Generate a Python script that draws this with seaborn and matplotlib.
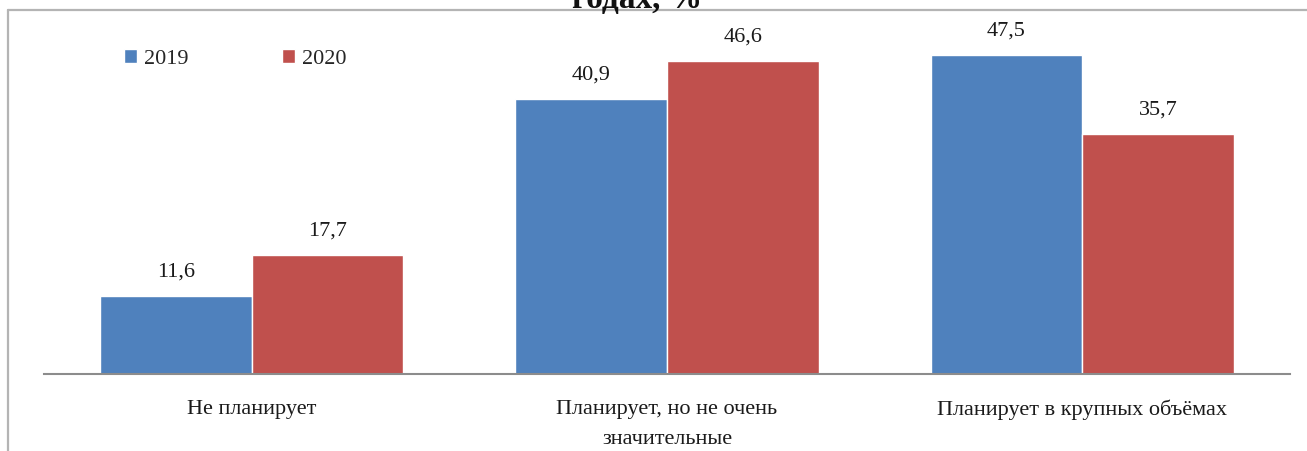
import matplotlib
matplotlib.use("Agg")
import matplotlib.pyplot as plt
from matplotlib.lines import Line2D
import seaborn as sns
import pandas as pd

categories = ["Не планирует", "Планирует, но не очень\nзначительные", "Планирует в крупных объёмах"]
years = ["2019", "2020"]
values_2019 = [11.6, 40.9, 47.5]
values_2020 = [17.7, 46.6, 35.7]
title_tail = "годах, %"

df = pd.DataFrame({
    "category": categories * 2,
    "year": [years[0]] * 3 + [years[1]] * 3,
    "value": values_2019 + values_2020,
})

sns.set_theme(style="white")
plt.rcParams["font.family"] = ["Liberation Serif", "DejaVu Serif"]

W, H = 1307, 452
FS = 16
fig = plt.figure(figsize=(W / 100, H / 100), dpi=100)
ax = fig.add_axes([44 / W, (H - 375) / H, 1246 / W, (375 - 39) / H])

palette = {"2019": "#4F81BD", "2020": "#C0504D"}
sns.barplot(data=df, x="category", y="value", hue="year", palette=palette,
            width=0.73, gap=0, saturation=1, ax=ax, legend=True)

ax.set_ylim(0, 50)
ax.set_xlim(-0.5, 2.5)
ax.set_xlabel("")
ax.set_ylabel("")
ax.set_yticks([])
for s in ["left", "right", "top"]:
    ax.spines[s].set_visible(False)
ax.spines["bottom"].set_color("#8C8C8C")
ax.spines["bottom"].set_linewidth(1.5)
ax.tick_params(axis="x", length=0, pad=18, labelsize=FS, colors="#1a1a1a")
for lab in ax.get_xticklabels():
    lab.set_linespacing(1.8)
    lab.set_multialignment("center")

for cont in ax.containers:
    labels = [f"{v:.1f}".replace(".", ",") for v in cont.datavalues]
    ax.bar_label(cont, labels=labels, padding=11, fontsize=FS, color="#1a1a1a")

leg = ax.legend(loc="upper left", bbox_to_anchor=(0.057, 0.995), ncol=2, frameon=False,
                fontsize=FS, handlelength=0.6, handleheight=0.6, handletextpad=0.3,
                columnspacing=4.2, borderaxespad=0)

# chart frame
fig.add_artist(Line2D([8 / W, 1.0], [1 - 11 / H, 1 - 11 / H], color="#B4B4B4", lw=1.6))
fig.add_artist(Line2D([8 / W, 8 / W], [0, 1 - 11 / H], color="#B4B4B4", lw=1.6))

fig.text(637 / W, 1 - 8 / H, title_tail, ha="center", va="baseline", fontsize=24,
         fontweight="bold", color="#111111")

fig.savefig("out.png", dpi=100, facecolor="white")
